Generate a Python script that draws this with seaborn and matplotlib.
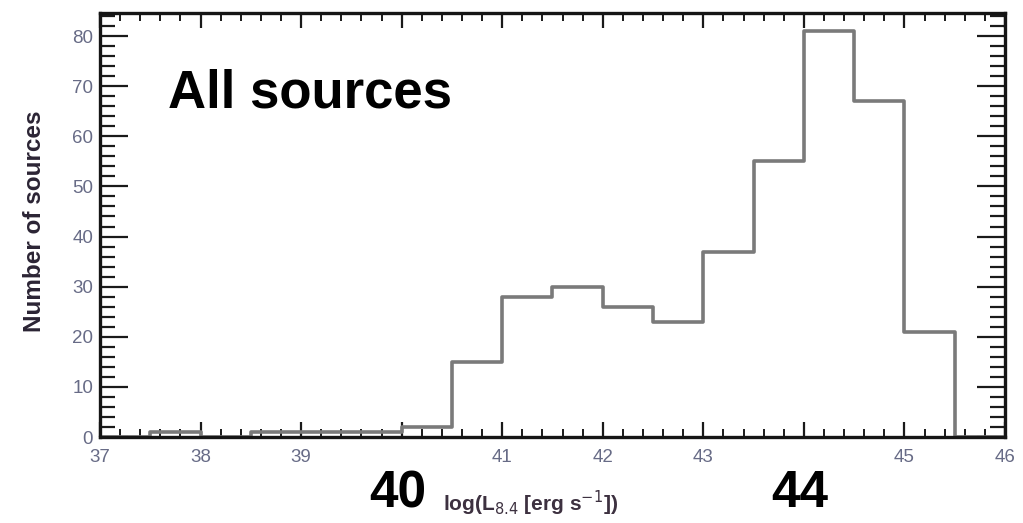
import numpy as np
import pandas as pd
import matplotlib
matplotlib.use("Agg")
import matplotlib.pyplot as plt
from matplotlib.ticker import MultipleLocator
import seaborn as sns

# Luminosity histogram: bin edges (log L) and number of sources per bin
bin_edges = [37.0, 37.5, 38.0, 38.5, 39.0, 39.5, 40.0, 40.5, 41.0, 41.5,
             42.0, 42.5, 43.0, 43.5, 44.0, 44.5, 45.0, 45.5, 46.0]
counts = [0, 1, 0, 1, 1, 1, 2, 15, 28, 30, 26, 23, 37, 55, 81, 67, 21, 0]

x_ticks = [37, 38, 39, 40, 41, 42, 43, 44, 45, 46]
x_tick_labels = ["37", "38", "39", "", "41", "42", "43", "", "45", "46"]
y_ticks = [0, 10, 20, 30, 40, 50, 60, 70, 80]
big_labels = ["40", "44"]
big_label_pos = [40, 44]

sns.set_style("white")
plt.rcParams["font.family"] = ["Liberation Sans", "DejaVu Sans"]

centers = [(a + b) / 2 for a, b in zip(bin_edges[:-1], bin_edges[1:])]
df = pd.DataFrame({"logL": centers, "n": counts})

fig = plt.figure(figsize=(10.23, 5.23), dpi=100)
ax = fig.add_axes([100 / 1023, 86 / 523, 905 / 1023, 424 / 523])

sns.histplot(data=df, x="logL", weights="n", bins=bin_edges,
             element="step", fill=False, color="#7a7a7a", linewidth=2.6,
             ax=ax)

ax.set_xlim(37, 46)
ax.set_ylim(0, 84.6)

tick_color = "#676b86"
ax.set_xticks(x_ticks)
ax.set_xticklabels(x_tick_labels)
ax.set_yticks(y_ticks)
ax.xaxis.set_minor_locator(MultipleLocator(0.2))
ax.yaxis.set_minor_locator(MultipleLocator(2))

ax.tick_params(axis="both", which="both", direction="in", colors="#1a1a1a",
               labelcolor=tick_color, labelsize=13.5)
ax.tick_params(axis="x", which="both", top=True, bottom=True, pad=9)
ax.tick_params(axis="y", which="both", left=True, right=True, pad=5)
ax.tick_params(axis="x", which="major", length=11, width=1.6)
ax.tick_params(axis="x", which="minor", length=5.5, width=1.4)
ax.tick_params(axis="y", which="major", length=20, width=1.6)
ax.tick_params(axis="y", which="minor", length=11, width=1.6)

for side in ["left", "right", "top", "bottom"]:
    ax.spines[side].set_visible(True)
    ax.spines[side].set_color("#151515")
    ax.spines[side].set_linewidth(2.4)

ax.set_ylabel("Number of sources", fontsize=17.5, fontweight="bold",
              color="#2b2434")
ax.yaxis.set_label_coords(-0.060, 0.51)
ax.set_xlabel(r"log(L$_{8.4}$ [erg s$^{-1}$])", fontsize=15,
              fontweight="bold", color="#3d3140")
ax.xaxis.set_label_coords(0.476, -0.122)

# Panel title inside the axes
ax.text(37.68, 65.7, "All sources", fontsize=38, fontweight="bold",
        color="black", va="baseline", ha="left")

# Emphasised tick values below the axis
for lab, xv in zip(big_labels, big_label_pos):
    ax.text(xv - 0.04, -14.0, lab, fontsize=37, fontweight="bold",
            color="black", ha="center", va="baseline", clip_on=False)

fig.savefig("out.png", dpi=100, facecolor="white")
